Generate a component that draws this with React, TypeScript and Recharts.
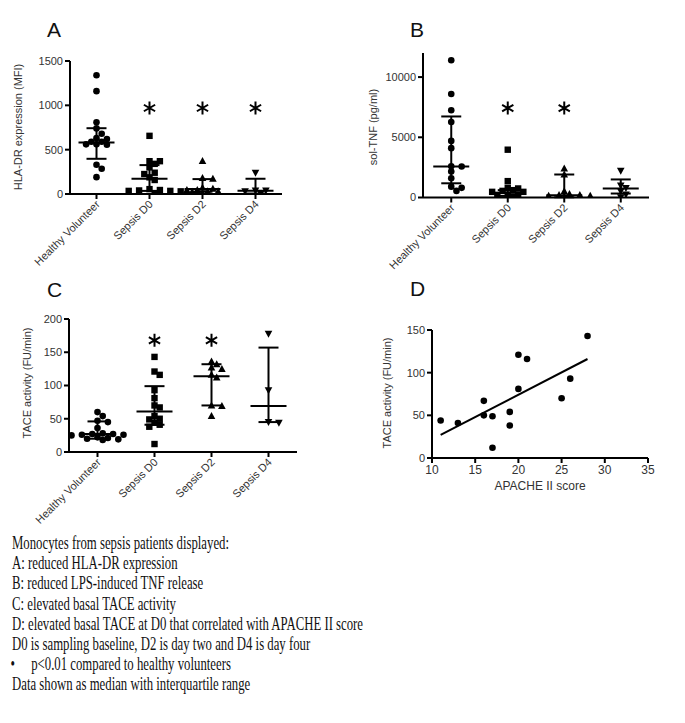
import React from 'react'
import { ScatterChart, Scatter, XAxis, YAxis, ErrorBar } from 'recharts'

const categories = ['Healthy Volunteer', 'Sepsis D0', 'Sepsis D2', 'Sepsis D4']

// A: HLA-DR expression (MFI)
const hlaHealthy = [1340, 1160, 810, 740, 680, 630, 590, 560, 555, 560, 590, 620, 330, 285, 190]
const hlaD0 = [656, 370, 340, 370, 300, 240, 225, 188, 158, 55, 40, 35, 30, 35, 45, 5]
const hlaD2 = [371, 180, 172, 70, 45, 30, 25, 30, 45, 60, 5]
const hlaD4 = [240, 40, 30, 40, 5]
const hlaMedian = [580, 172, 56, 37]
const hlaQ1 = [397, 35, 26, 5]
const hlaQ3 = [742, 326, 168, 172]
const hlaStars = [null, 970, 970, 970]

// B: sol-TNF (pg/ml)
const tnfHealthy = [11400, 8600, 7250, 6270, 4700, 4100, 2600, 2570, 2150, 1600, 900, 800, 550]
const tnfD0 = [3970, 1360, 800, 750, 610, 550, 470, 470, 230, 200, 230, 50]
const tnfD2 = [2410, 1910, 520, 300, 200, 200, 150, 150, 20]
const tnfD4 = [2220, 1000, 780, 520, 250, 20]
const tnfMedian = [2570, 390, 190, 750]
const tnfQ1 = [1180, 130, 20, 330]
const tnfQ3 = [6730, 610, 1910, 1500]
const tnfStars = [null, 7430, 7430, null]

// C: TACE activity (FU/min)
const taceHealthy = [60, 54, 47, 45, 36, 28, 27, 27, 26, 26, 25, 22, 21, 20, 19, 18]
const taceD0 = [143, 121, 116, 93, 81, 70, 67, 54, 50, 49, 44, 41, 38, 12]
const taceD2 = [136, 132, 127, 125, 116, 112, 70, 69, 54]
const taceD4 = [178, 93, 45, 44]
const taceMedian = [27, 61, 114, 69]
const taceQ1 = [20, 41, 70, 45]
const taceQ3 = [46, 99, 132, 157]
const taceStars = [null, 168, 168, null]

// D: TACE vs APACHE II at D0
const apacheScore = [11, 13, 16, 16, 17, 17, 19, 19, 20, 20, 21, 25, 26, 28]
const apacheTace = [44, 41, 67, 50, 49, 12, 54, 38, 121, 81, 116, 70, 93, 143]
const fitScore = [11, 28]
const fitTace = [27, 116]

const notes = [
  'Monocytes from sepsis patients displayed:',
  'A: reduced HLA-DR expression',
  'B: reduced LPS-induced TNF release',
  'C: elevated basal TACE activity',
  'D: elevated basal TACE at D0 that correlated with APACHE II score',
  'D0 is sampling baseline, D2 is day two and D4 is day four',
  'p<0.01 compared to healthy volunteers',
  'Data shown as median with interquartile range',
]

const SANS = 'Liberation Sans, Arial, sans-serif'
const axisStyle = { stroke: '#000', strokeWidth: 2 }
const tickStyle = { fontSize: 11, fill: '#333', fontFamily: SANS }

// simple beeswarm so close values spread sideways (offsets in px)
function spread(values: number[], pxPerUnit: number, step: number, gap: number) {
  const offs = values.map(() => 0)
  const placed: { y: number; off: number }[] = []
  const order = values.map((_, i) => i).sort((a, b) => values[b] - values[a])
  for (const i of order) {
    const y = values[i] * pxPerUnit
    for (let k = 0; k < 40; k++) {
      const off = k === 0 ? 0 : (k % 2 === 1 ? 1 : -1) * Math.ceil(k / 2) * step
      const hit = placed.some((p) => Math.hypot(p.off - off, p.y - y) < gap)
      if (!hit) {
        offs[i] = off
        placed.push({ y, off })
        break
      }
    }
  }
  return offs
}

const markers = [
  (p: any) => <circle cx={p.cx} cy={p.cy} r={3.3} fill="#000" />,
  (p: any) => <rect x={p.cx - 3.2} y={p.cy - 3.2} width={6.4} height={6.4} fill="#000" />,
  (p: any) => <path d={`M${p.cx},${p.cy - 4} L${p.cx + 3.8},${p.cy + 3} L${p.cx - 3.8},${p.cy + 3} Z`} fill="#000" />,
  (p: any) => <path d={`M${p.cx},${p.cy + 4} L${p.cx + 3.8},${p.cy - 3} L${p.cx - 3.8},${p.cy - 3} Z`} fill="#000" />,
]

const MedianLine = (p: any) => (
  <line x1={p.cx - 18} x2={p.cx + 18} y1={p.cy} y2={p.cy} stroke="#000" strokeWidth={2} />
)

const Star = (p: any) => {
  const r = 6.5
  const a = r * Math.sin(Math.PI / 3)
  const b = r * Math.cos(Math.PI / 3)
  return (
    <path
      d={`M${p.cx},${p.cy - r} L${p.cx},${p.cy + r} M${p.cx - a},${p.cy - b} L${p.cx + a},${p.cy + b} M${p.cx - a},${p.cy + b} L${p.cx + a},${p.cy - b}`}
      stroke="#000"
      strokeWidth={2}
    />
  )
}

const CatTick = (props: any) => {
  const { x, y, payload } = props
  const tx = x + 4
  const ty = y + 4
  return (
    <text x={tx} y={ty} transform={`rotate(-45 ${tx} ${ty})`} textAnchor="end" {...tickStyle}>
      {categories[Math.floor(payload.value)]}
    </text>
  )
}

type Box = { left: number; top: number; width: number; height: number }
type Plot = { left: number; right: number; top: number; bottom: number }

function DotPanel({
  box,
  plot,
  yMax,
  yTicks,
  groups,
  median,
  q1,
  q3,
  stars,
}: {
  box: Box
  plot: Plot
  yMax: number
  yTicks: number[]
  groups: number[][]
  median: number[]
  q1: number[]
  q3: number[]
  stars: (number | null)[]
}) {
  const plotW = plot.right - plot.left
  const pxPerUnit = (plot.bottom - plot.top) / yMax
  const unitsPerPx = 4 / plotW
  const stats = categories.map((_, i) => ({
    x: i + 0.5,
    y: median[i],
    err: [median[i] - q1[i], q3[i] - median[i]],
  }))
  const starData = stars
    .map((s, i) => (s == null ? null : { x: i + 0.5, y: s }))
    .filter(Boolean) as { x: number; y: number }[]
  return (
    <div style={{ position: 'absolute', left: box.left, top: box.top }}>
      <ScatterChart
        width={box.width}
        height={box.height}
        margin={{ top: plot.top - box.top, right: box.left + box.width - plot.right, left: 0, bottom: 0 }}
      >
        <XAxis
          type="number"
          dataKey="x"
          domain={[0, 4]}
          ticks={[0.5, 1.5, 2.5, 3.5]}
          interval={0}
          allowDataOverflow
          height={box.top + box.height - plot.bottom}
          axisLine={axisStyle}
          tickLine={axisStyle}
          tickSize={5}
          tick={<CatTick />}
        />
        <YAxis
          type="number"
          dataKey="y"
          domain={[0, yMax]}
          ticks={yTicks}
          interval={0}
          allowDataOverflow
          width={plot.left - box.left}
          axisLine={axisStyle}
          tickLine={axisStyle}
          tickSize={5}
          tick={tickStyle}
        />
        {groups.map((vals, i) => {
          const offs = spread(vals, pxPerUnit, 5.2, 5.4)
          const data = vals.map((v, j) => ({ x: i + 0.5 + offs[j] * unitsPerPx, y: v }))
          return <Scatter key={i} data={data} shape={markers[i]} isAnimationActive={false} />
        })}
        <Scatter data={stats} shape={MedianLine} isAnimationActive={false}>
          <ErrorBar dataKey="err" direction="y" width={10} stroke="#000" strokeWidth={2} />
        </Scatter>
        <Scatter data={starData} shape={Star} isAnimationActive={false} />
      </ScatterChart>
    </div>
  )
}

function CorrelationPanel() {
  const box = { left: 340, top: 290, width: 330, height: 240 }
  const plot = { left: 432, right: 648, top: 330, bottom: 458 }
  const points = apacheScore.map((s, i) => ({ x: s, y: apacheTace[i] }))
  const fit = fitScore.map((s, i) => ({ x: s, y: fitTace[i] }))
  return (
    <div style={{ position: 'absolute', left: box.left, top: box.top }}>
      <ScatterChart
        width={box.width}
        height={box.height}
        margin={{ top: plot.top - box.top, right: box.left + box.width - plot.right, left: 0, bottom: 0 }}
      >
        <XAxis
          type="number"
          dataKey="x"
          domain={[10, 35]}
          ticks={[10, 15, 20, 25, 30, 35]}
          interval={0}
          allowDataOverflow
          height={box.top + box.height - plot.bottom}
          axisLine={axisStyle}
          tickLine={axisStyle}
          tickSize={5}
          tick={{ ...tickStyle, fontSize: 12 }}
        />
        <YAxis
          type="number"
          dataKey="y"
          domain={[0, 150]}
          ticks={[0, 50, 100, 150]}
          interval={0}
          allowDataOverflow
          width={plot.left - box.left}
          axisLine={axisStyle}
          tickLine={axisStyle}
          tickSize={5}
          tick={tickStyle}
        />
        <Scatter data={points} shape={markers[0]} isAnimationActive={false} />
        <Scatter
          data={fit}
          line={{ stroke: '#000', strokeWidth: 2 }}
          shape={() => <g />}
          isAnimationActive={false}
        />
      </ScatterChart>
    </div>
  )
}

export default function App() {
  const titleProps = { fontSize: 11, fill: '#333', fontFamily: SANS, textAnchor: 'middle' as const, dominantBaseline: 'central' as const }
  const letterProps = { fontSize: 21, fill: '#111', fontFamily: SANS }
  return (
    <div style={{ position: 'absolute', left: 0, top: 0, width: 685, height: 723, background: '#fff', overflow: 'hidden' }}>
      <svg width={685} height={723} style={{ position: 'absolute', left: 0, top: 0 }}>
        <text x={47} y={37} {...letterProps}>A</text>
        <text x={410} y={37} {...letterProps}>B</text>
        <text x={47} y={297} {...letterProps}>C</text>
        <text x={410} y={296} {...letterProps}>D</text>
        <text x={18} y={127} transform="rotate(-90 18 127)" {...titleProps}>HLA-DR expression (MFI)</text>
        <text x={373} y={127} transform="rotate(-90 373 127)" {...titleProps}>sol-TNF (pg/ml)</text>
        <text x={27} y={383} transform="rotate(-90 27 383)" {...titleProps}>TACE activity (FU/min)</text>
        <text x={387} y={393} transform="rotate(-90 387 393)" {...titleProps}>TACE activity (FU/min)</text>
        <text x={540} y={486} {...titleProps} fontSize={12}>APACHE II score</text>
        <g transform="translate(12 0) scale(0.71 1)" fontFamily="Liberation Serif, Times New Roman, serif" fontSize={18} fill="#111">
          {notes.map((t, i) =>
            i === 6 ? (
              <g key={i}>
                <text x={-2} y={549.3 + i * 20.1}>•</text>
                <text x={27} y={549.3 + i * 20.1}>{t}</text>
              </g>
            ) : (
              <text key={i} x={0} y={549.3 + i * 20.1}>{t}</text>
            )
          )}
        </g>
      </svg>
      <DotPanel
        box={{ left: 0, top: 0, width: 300, height: 290 }}
        plot={{ left: 70, right: 282, top: 61, bottom: 194 }}
        yMax={1500}
        yTicks={[0, 500, 1000, 1500]}
        groups={[hlaHealthy, hlaD0, hlaD2, hlaD4]}
        median={hlaMedian}
        q1={hlaQ1}
        q3={hlaQ3}
        stars={hlaStars}
      />
      <DotPanel
        box={{ left: 340, top: 0, width: 330, height: 290 }}
        plot={{ left: 423, right: 649, top: 53, bottom: 197.5 }}
        yMax={12000}
        yTicks={[0, 5000, 10000]}
        groups={[tnfHealthy, tnfD0, tnfD2, tnfD4]}
        median={tnfMedian}
        q1={tnfQ1}
        q3={tnfQ3}
        stars={tnfStars}
      />
      <DotPanel
        box={{ left: 0, top: 290, width: 320, height: 240 }}
        plot={{ left: 69, right: 297, top: 319, bottom: 452 }}
        yMax={200}
        yTicks={[0, 50, 100, 150, 200]}
        groups={[taceHealthy, taceD0, taceD2, taceD4]}
        median={taceMedian}
        q1={taceQ1}
        q3={taceQ3}
        stars={taceStars}
      />
      <CorrelationPanel />
    </div>
  )
}
